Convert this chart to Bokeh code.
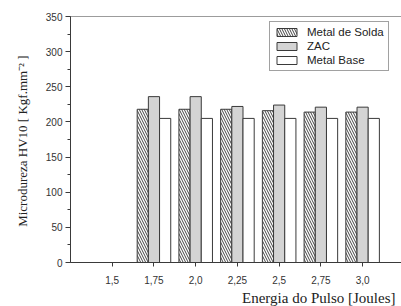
import math
from bokeh.plotting import figure
from bokeh.models import (ColumnDataSource, FixedTicker, SingleIntervalTicker, Range1d,
                          Title, Span, Legend, LegendItem)
from bokeh.transform import dodge
from bokeh.embed import file_html
from bokeh.resources import INLINE

# ---- data ----
energia = [1.75, 2.0, 2.25, 2.5, 2.75, 3.0]
metal_de_solda = [218, 218, 218, 216, 214, 214]
zac = [236, 236, 222, 224, 221, 221]
metal_base = [205, 205, 205, 205, 205, 205]
x_ticks = [1.5, 1.75, 2.0, 2.25, 2.5, 2.75, 3.0]
x_tick_labels = ["1,5", "1,75", "2,0", "2,25", "2,5", "2,75", "3,0"]
series_names = ["Metal de Solda", "ZAC", "Metal Base"]
y_title = "Microdureza HV10  [ Kgf.mm\u207b\u00b2 ]"
x_title = "Energia do Pulso [Joules]"

src = ColumnDataSource(dict(x=energia, ms=metal_de_solda, zac=zac, mb=metal_base))

W, H = 401, 306
p = figure(width=W, height=H, output_backend="svg", toolbar_location=None,
           x_range=Range1d(1.25, 3.233), y_range=Range1d(0, 350),
           min_border_left=70, min_border_right=0, min_border_top=16, min_border_bottom=0)
p.outline_line_color = None
p.xgrid.visible = False
p.ygrid.visible = False
p.background_fill_color = "white"
p.border_fill_color = "white"

bw = 0.067
ink = "#3a3a3a"
r1 = p.vbar(x=dodge("x", -bw, range=p.x_range), top="ms", width=bw, source=src,
            fill_color="white", line_color=ink, line_width=1,
            hatch_pattern="left_diagonal_line", hatch_color="#444444",
            hatch_scale=5, hatch_weight=1)
r2 = p.vbar(x=dodge("x", 0, range=p.x_range), top="zac", width=bw, source=src,
            fill_color="#d4d4d4", line_color=ink, line_width=1)
r3 = p.vbar(x=dodge("x", bw, range=p.x_range), top="mb", width=bw, source=src,
            fill_color="white", line_color=ink, line_width=1)

# top frame line
p.add_layout(Span(location=350, dimension="width", line_color=ink, line_width=1))

serif = "Liberation Serif"
tc = "#222222"

# axes
xa = p.xaxis[0]
xa.ticker = FixedTicker(ticks=x_ticks)
xa.major_label_overrides = {t: l for t, l in zip(x_ticks, x_tick_labels)}
xa.major_tick_out = 4
xa.major_tick_in = 0
xa.major_label_standoff = 9
ya = p.yaxis[0]
ya.ticker = SingleIntervalTicker(interval=50, num_minor_ticks=2)
ya.major_tick_out = 5
ya.major_tick_in = 0
ya.minor_tick_out = 3
ya.minor_tick_in = 0
ya.major_label_standoff = 3
ya.axis_label = y_title
ya.axis_label_text_font = serif
ya.axis_label_text_font_size = "13px"
ya.axis_label_text_font_style = "normal"
ya.axis_label_text_color = tc
ya.axis_label_standoff = 13
for ax in (xa, ya):
    ax.axis_line_color = ink
    ax.major_tick_line_color = ink
    ax.minor_tick_line_color = ink if ax is ya else None
    ax.major_label_text_font = "Liberation Sans"
    ax.major_label_text_font_size = "10px"
    ax.major_label_text_color = "#333333"

p.add_layout(Title(text=x_title, align="right", offset=6, standoff=2,
                   text_font=serif, text_font_size="15px", text_font_style="normal",
                   text_color=tc), "below")

legend = Legend(items=[LegendItem(label=series_names[0], renderers=[r1]),
                       LegendItem(label=series_names[1], renderers=[r2]),
                       LegendItem(label=series_names[2], renderers=[r3])],
                location=(199, 191), orientation="vertical",
                glyph_width=25, glyph_height=10, label_height=12, spacing=2,
                padding=4, margin=0, label_standoff=8,
                label_text_font="Liberation Sans", label_text_font_size="11.5px",
                label_text_color=tc,
                border_line_color="#444444", border_line_width=1,
                background_fill_color="white", background_fill_alpha=1)
p.add_layout(legend)

open("out.html", "w").write(file_html(p, INLINE))
